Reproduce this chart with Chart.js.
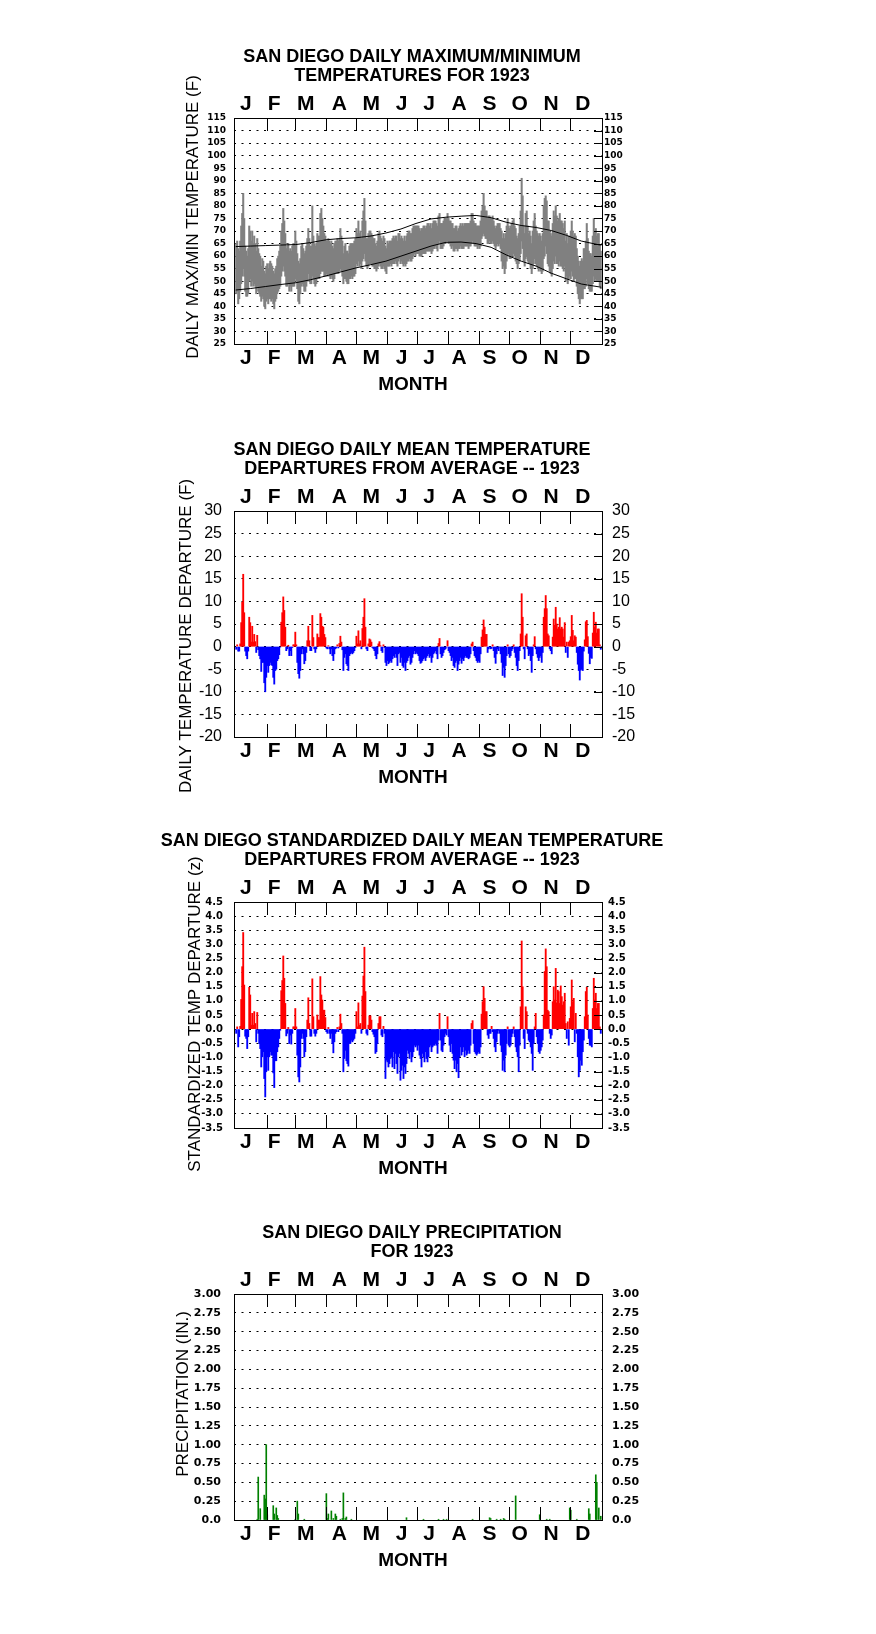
<!DOCTYPE html>
<html lang="en">
<head>
<meta charset="utf-8">
<title>San Diego 1923</title>
<script src="https://cdn.jsdelivr.net/npm/chart.js@4.4.1/dist/chart.umd.min.js"></script>
<style>
  html, body { margin: 0; padding: 0; background: #ffffff; }
  #page { position: relative; width: 876px; height: 1634px; overflow: hidden; }
  #page canvas { position: absolute; left: 0; }
</style>
</head>
<body>
<div id="page">
  <canvas id="chartMaxMin" width="876" height="410" style="top:0px"></canvas>
  <canvas id="chartDep" width="876" height="410" style="top:393px"></canvas>
  <canvas id="chartStd" width="876" height="410" style="top:784px"></canvas>
  <canvas id="chartPrcp" width="876" height="410" style="top:1176px"></canvas>
</div>
<script>
// --- data, 1923, day 0 = Jan 1 ---
const MONTHS = ['J', 'F', 'M', 'A', 'M', 'J', 'J', 'A', 'S', 'O', 'N', 'D'];
const monthStarts = [31, 59, 90, 120, 151, 181, 212, 243, 273, 304, 334];
const monthLabelDays = [10, 38.5, 70, 103.5, 135.3, 165.5, 193, 223, 253.5, 283.5, 314.8, 346.5];

// daily max / min temperature (F), one line per month
const tMax = [
  65,66,63,62,66,72,77,85,75,64,62,60,63,72,70,66,70,65,68,65,62,67,63,61,60,56,59,58,54,53,56,
  57,55,57,58,57,56,54,53,55,56,59,60,62,64,70,73,79,74,69,63,64,65,62,63,62,64,65,65,
  70,66,61,58,57,59,64,65,63,61,62,64,67,71,67,64,64,80,68,65,64,65,69,68,68,77,79,75,72,69,68,
  66,66,67,66,65,66,64,63,65,66,66,67,66,67,71,68,66,61,64,65,62,62,61,64,65,65,65,65,66,67,
  71,69,74,69,70,67,74,78,83,74,67,67,69,70,70,69,68,67,67,65,64,66,69,70,68,67,66,68,67,64,63,
  66,65,66,66,66,67,68,67,68,68,66,69,69,67,68,67,66,68,66,68,69,70,70,69,69,71,72,72,72,72,
  72,72,71,70,71,71,72,72,71,72,73,73,72,73,71,73,74,74,74,73,72,76,77,73,73,73,74,75,75,75,77,
  75,74,74,73,73,71,71,72,72,70,71,72,73,72,73,72,73,73,73,73,73,73,74,77,77,74,73,73,72,72,72,
  72,74,78,80,85,80,78,78,75,76,76,75,75,76,74,72,71,72,73,73,73,71,70,67,69,67,69,72,75,72,
  71,72,73,74,75,72,71,68,67,69,72,78,91,84,72,69,77,78,72,69,70,68,65,70,74,77,72,70,69,68,69,
  68,66,69,80,83,84,82,74,74,70,69,68,73,78,76,80,76,74,75,77,74,74,73,71,74,66,69,65,68,68,
  70,74,70,68,69,68,63,60,58,56,58,59,58,63,63,66,73,67,62,61,61,60,68,75,70,71,68,69,69,64,62
];
const tMin = [
  45,46,41,43,46,49,52,55,52,46,44,44,45,50,51,48,50,48,49,48,45,48,46,45,44,42,44,43,40,39,42,
  43,41,43,43,42,43,41,39,42,43,45,46,47,48,52,54,56,54,52,48,48,49,46,48,46,48,48,48,
  51,50,47,42,41,45,48,49,48,46,46,48,50,53,50,49,49,52,51,49,48,49,51,51,51,53,54,54,54,52,52,
  53,52,53,52,51,52,51,50,51,53,53,53,53,54,55,54,52,49,51,51,50,49,49,51,51,52,51,52,52,53,
  57,56,58,56,57,55,58,59,61,58,56,55,56,57,57,57,56,56,55,55,54,55,56,57,56,55,55,56,55,54,53,
  56,56,56,57,56,57,57,57,58,57,56,58,59,57,58,57,56,57,56,57,58,58,59,58,58,59,60,61,60,61,
  61,61,60,60,60,61,61,61,61,62,62,62,62,62,61,62,63,63,64,63,62,65,66,63,63,63,64,65,65,66,66,
  65,65,64,63,64,62,62,63,63,62,63,63,64,63,63,63,64,64,64,64,63,64,64,65,66,65,64,64,64,63,64,
  63,64,67,68,69,68,67,67,65,65,66,65,65,66,65,64,63,64,65,64,65,63,58,55,56,53,55,58,60,61,
  59,59,60,60,61,60,58,57,55,57,58,61,66,63,58,56,59,60,58,57,57,55,53,55,57,59,57,56,55,54,55,
  54,53,54,59,60,64,61,57,56,54,53,52,55,58,57,60,57,57,56,58,56,56,55,54,56,50,52,49,51,52,
  51,54,52,50,51,51,48,45,43,41,43,43,43,47,47,48,51,49,47,46,46,46,49,52,50,51,50,50,50,48,47
];

// long-term normal max / min curves
const normDays = [0, 15, 30, 45, 60, 75, 90, 105, 120, 135, 150, 165, 180, 195, 210, 225, 240, 255, 270, 285, 300, 315, 330, 345, 365];
const normMax = [63.8, 64, 64.2, 64.4, 64.6, 65.4, 66.5, 67, 67.3, 68, 69.2, 70.8, 73, 74.8, 75.5, 75.9, 76.2, 75.3, 73.5, 72.2, 71.4, 70.2, 68.3, 66, 64.3];
const normMin = [46.5, 47.1, 47.9, 48.7, 49.4, 50.6, 52.1, 53.7, 55.3, 56.6, 58, 60, 62, 64, 65.5, 65.6, 65, 63.5, 60.5, 58, 56, 53.2, 51, 48.9, 47.6];

// daily mean temperature departure (F)
const depF = [
  -0.6,0.4,-1,-1,0.6,5.3,9.8,16,7.5,-1,-2,-2.7,-1,6.5,5.3,1,4.5,1,2.7,1.1,-1.3,2.5,-0.7,-2,-2.7,-5.5,-3.5,-3.5,-8,-10,-6.8,
  -4.2,-5.7,-4.2,-3.5,-4,-4.2,-6.8,-8.3,-5.3,-5,-3.1,-2.7,-1.8,-0.1,5.4,7.5,11,8,4.3,-0.9,-0.5,0.3,-2,-0.9,-2,-0.2,0.4,0.4,
  3.2,0.4,-3.5,-6,-7,-5.3,-1.6,-0.5,-1.6,-3.8,-3.1,-1.3,1.3,4.5,1.3,-0.9,-0.9,6.9,2,-0.5,-1.3,-0.5,2.8,2,2,7.3,6.5,4.5,4.3,2.7,2,
  -0.3,-0.5,0.2,-0.5,-1.6,-0.5,-2,-3.1,-1.6,-0.5,-0.3,0.4,-0.3,0.7,2.3,1,-0.7,-5.3,-2.4,-1.6,-3.8,-4.2,-5.3,-2,-1.6,-1.3,-1.6,-1.3,-0.9,-0.2,
  2.3,0.6,3.5,0.6,1.3,-0.5,4,6.5,10.6,4.3,-0.5,-0.9,0.6,1.7,1.5,1,-0.2,-0.5,-0.9,-2,-2.7,-1.6,0.6,1.1,0.2,-0.9,-1.3,0.4,-0.2,-3.5,-4.2,
  -3.1,-3.8,-3.5,-3.1,-3.5,-2.7,-2,-2.4,-1.6,-2.4,-4.2,-1.6,-1.3,-3.5,-2.4,-4.2,-4.6,-3.5,-5.3,-3.5,-3.1,-2.4,-2,-3.9,-3.5,-2.4,-1.6,-0.9,-1.6,-1.3,
  -1.6,-2,-3.1,-3.7,-3.5,-3.1,-2.7,-2.4,-3.1,-2.4,-2,-1.6,-2.4,-2,-3.5,-2.4,-1.6,-1.3,-0.9,-1.6,-2.7,0.7,1.8,-1.6,-2.4,-2,-1.3,-0.7,-0.5,-0.1,1.3,
  -0.9,-1.3,-2,-3.1,-2.4,-4.2,-4.6,-3.5,-3.1,-5.3,-3.9,-3.1,-2.4,-3.7,-2.7,-3.1,-2.4,-2,-2.4,-2.4,-2.7,-2.4,-1.6,0.6,1,-0.9,-2,-2.4,-3.1,-3.5,-3.1,
  -3.5,-1.6,2.1,3.7,5.9,4.3,2.7,2.7,-1.3,-0.5,-0.1,-0.5,-0.4,0.4,-0.9,-2.4,-3.7,-1.6,-0.5,-0.9,-0.1,-1.6,-3.5,-6.4,-4.6,-6.8,-4.2,-2,0.4,-1.6,
  -2.4,-2,-0.9,-0.5,0.4,-1.3,-2.4,-4.2,-5.3,-3.1,-0.9,2.8,11.7,6.5,-0.5,-2.7,2.4,2.8,-0.5,-2,-1.6,-3.1,-5.7,-2,0.4,2.2,-0.5,-1.6,-2.4,-3.1,-2.4,
  -2,-3.5,-1.3,6.5,8.4,11.3,8.4,2.8,2.4,-0.5,-0.9,-1.6,2.1,6.1,4.7,8.7,5,3.9,4.3,6.4,3.9,4.3,3.9,2.1,5.3,-1.3,1,-2.4,1,1.3,
  2.2,6.9,3.6,1.3,2.4,2.1,-1.3,-3.9,-5.3,-7.4,-5.2,-5,-5.3,-1,1.5,5.5,5.8,2.2,-1.5,-3.8,-2.4,-2.6,3,7.6,4.3,5.4,3,3.9,3.9,0.4,-0.6
];

// standardized daily mean departure (z)
const depZ = [
  -0.15,0.08,-0.63,-0.27,0.1,1.05,2.21,3.42,1.56,-0.25,-0.33,-0.69,-0.27,1.48,1.21,0.14,0.56,0.14,0.62,0.2,-0.45,0.59,-0.15,-0.51,-0.69,-1.34,-0.98,-0.8,-1.75,-2.4,-1.51,
  -0.98,-1.46,-0.98,-0.8,-0.92,-0.92,-1.55,-2.07,-1.12,-1.12,-0.8,-0.63,-0.33,-0.04,1.36,1.72,2.59,1.8,0.91,-0.24,-0.15,0.06,-0.51,-0.21,-0.53,-0.15,0.08,0.08,
  0.73,0.08,-0.92,-1.69,-1.87,-1.34,-0.33,-0.15,-0.33,-0.98,-0.8,-0.27,0.32,1.11,0.2,-0.25,-0.25,1.78,0.44,-0.15,-0.25,-0.15,0.5,0.32,0.32,1.86,1.21,1.03,0.67,0.67,0.41,
  -0.09,-0.15,0.06,-0.15,-0.33,-0.15,-0.51,-0.84,-0.45,-0.15,-0.09,0.06,-0.09,0.08,0.53,0.2,-0.15,-1.51,-1.04,-0.75,-1.12,-1.22,-1.31,-0.51,-0.51,-0.39,-0.45,-0.39,-0.33,-0.15,
  0.62,0.08,0.93,0.14,0.2,-0.15,1.17,1.88,2.9,1.33,-0.15,-0.21,0.14,0.47,0.47,0.32,-0.09,-0.18,-0.27,-0.86,-0.8,-0.51,0.2,0.44,0.44,-0.21,-0.27,0.1,-0.15,-1.75,-1.1,
  -1.16,-1.34,-1.22,-1.04,-0.98,-1.34,-0.8,-1.4,-0.86,-1.22,-1.57,-0.98,-0.86,-1.81,-1.46,-1.28,-1.75,-1.34,-1.57,-1.22,-0.75,-0.86,-1.04,-0.8,-1.16,-0.98,-0.8,-0.57,-0.63,-0.57,
  -0.75,-0.57,-0.92,-1.04,-1.34,-0.86,-0.98,-1.16,-0.8,-1.04,-1.16,-0.98,-0.63,-0.57,-0.8,-0.63,-0.57,-0.57,-0.51,-0.57,-0.86,-0.39,0.56,-0.39,-0.75,-0.8,-0.57,-0.27,-0.15,-0.21,0.44,
  -0.27,-0.57,-0.8,-0.51,-0.86,-1.1,-1.4,-1.1,-1.51,-1.22,-1.72,-0.98,-0.63,-0.92,-0.8,-0.63,-0.98,-0.75,-0.92,-0.86,-0.75,-0.86,-0.57,0.2,0.3,-0.51,-0.8,-0.86,-0.92,-0.86,-0.8,
  -0.86,-0.63,0.53,0.97,1.5,1.09,0.62,0.62,-0.21,-0.33,-0.15,-0.15,0.1,-0.09,-0.33,-0.63,-0.8,-0.45,-0.15,-0.04,-0.15,-0.57,-0.8,-1.46,-1.1,-1.51,-0.92,-0.51,0.08,-0.57,
  -0.63,-0.57,-0.27,-0.15,0.08,-0.27,-0.63,-0.8,-0.98,-1.51,-0.57,0.79,3.12,1.5,-0.33,-0.69,0.79,0.62,-0.15,-0.39,-0.45,-0.63,-0.86,-1.46,-0.51,0.08,0.56,-0.27,-0.51,-0.8,-0.86,
  -0.75,-0.63,-0.39,0.5,2.04,2.84,2.21,0.67,0.62,-0.15,-0.33,-0.21,0.97,1.5,1.03,2.15,0.93,1.38,1.33,0.91,1.53,1.15,0.85,0.97,1.27,0.2,-0.33,0.26,-0.57,0.38,
  0.79,1.74,0.97,1.09,-0.45,0.56,-0.15,-0.98,-1.69,-1.46,-1.1,-1.28,-0.8,-0.39,0.44,1.33,1.48,0.5,-0.33,-0.57,-0.57,-0.63,0.73,1.8,1.03,1.27,0.73,0.91,0.91,0.08,-0.15
];

// days with measurable precipitation and amounts (inches)
const precipDays = [21,22,24,28,29,30,31,37,38,40,41,42,59,61,62,68,90,91,92,95,97,99,100,104,106,107,109,110,115,
  170,187,202,207,210,236,253,254,260,264,267,268,279,303,310,313,333,334,340,352,353,359,360,362,364];
const precipIn = [0.01,0.57,0.15,0.33,0.28,1.00,0.07,0.19,0.08,0.16,0.06,0.02,0.01,0.25,0.08,0.01,0.35,0.02,0.08,0.12,0.02,0.08,0.05,0.01,0.02,0.36,0.02,0.04,0.01,
  0.03,0.01,0.01,0.01,0.01,0.01,0.03,0.02,0.01,0.01,0.02,0.01,0.32,0.07,0.01,0.01,0.16,0.13,0.01,0.15,0.08,0.60,0.50,0.16,0.05];

// --- styling ---
const ARIAL = "'Liberation Sans', Arial, Helvetica, sans-serif";
const DEJAVU = "'DejaVu Sans', Verdana, sans-serif";
const X_MIN = -1.7, X_MAX = 365.7;
const PLOT_BOTTOM = 344;
const RED = '#ff0000', BLUE = '#0000ff', GREEN = '#008000', GRAY = '#808080';

Chart.defaults.color = '#000';

// month ticks (inside the frame), right-hand ticks, side titles
const frameMarks = {
  id: 'frameMarks',
  afterDatasetsDraw(chart, args, opts) {
    const { ctx, chartArea: a, scales: { x, y } } = chart;
    ctx.save();
    ctx.strokeStyle = '#000';
    ctx.lineWidth = 1;
    ctx.beginPath();
    monthStarts.forEach(d => {
      const px = Math.round(x.getPixelForValue(d)) + 0.5;
      ctx.moveTo(px, a.top); ctx.lineTo(px, a.top + 13);
      ctx.moveTo(px, a.bottom); ctx.lineTo(px, a.bottom - 13);
    });
    if (opts.rightTicks) {
      y.ticks.forEach(t => {
        const py = Math.round(y.getPixelForValue(t.value)) + 0.5;
        ctx.moveTo(a.right - 8, py); ctx.lineTo(a.right, py);
      });
    }
    ctx.stroke();

    ctx.fillStyle = '#000';
    ctx.textAlign = 'center';
    ctx.textBaseline = 'middle';
    ctx.font = 'bold 19px ' + ARIAL;
    ctx.fillText('MONTH', 413, 385);
    ctx.font = '17px ' + ARIAL;
    ctx.translate(opts.yTitleX, opts.yTitleY);
    ctx.rotate(-Math.PI / 2);
    ctx.fillText(opts.yTitle, 0, 0);
    ctx.restore();
  }
};

function xAxis(pos) {
  return {
    type: 'linear', position: pos, min: X_MIN, max: X_MAX, offset: false,
    grid: { display: false, drawTicks: false },
    border: { display: true, color: '#000', width: 1 },
    afterBuildTicks: s => { s.ticks = monthLabelDays.map(v => ({ value: v })); },
    ticks: {
      autoSkip: false, maxRotation: 0, minRotation: 0, padding: pos === 'top' ? 1 : 1.5,
      font: { family: ARIAL, size: 21, weight: 'bold', lineHeight: 1.2 },
      callback: (v, i) => MONTHS[i]
    },
    afterFit: s => { s.height = pos === 'top' ? 32.64 : s.chart.height - PLOT_BOTTOM; }
  };
}

function yAxis(pos, p) {
  return {
    type: 'linear', position: pos, min: p.yMin, max: p.yMax,
    grid: { display: pos === 'left', drawTicks: false, color: '#000', lineWidth: 1 },
    border: { display: true, color: '#000', width: 1, dash: [2, 5.5], dashOffset: 1 },
    afterBuildTicks: s => {
      const t = [];
      for (let v = p.yMin; v <= p.yMax + 1e-9; v += p.yStep) t.push({ value: Math.round(v * 100) / 100 });
      s.ticks = t;
    },
    ticks: {
      autoSkip: false, padding: pos === 'left' ? p.padL : p.padR,
      font: p.tickFont, callback: p.fmt
    },
    afterFit: s => { s.width = pos === 'left' ? 234 : 222; }
  };
}

function makeChart(id, p, datasets) {
  return new Chart(document.getElementById(id), {
    type: 'bar',
    data: { datasets },
    options: {
      responsive: false, animation: false, devicePixelRatio: 1, events: [],
      layout: { padding: { left: 0, right: 52, top: 0, bottom: 0 } },
      plugins: {
        legend: { display: false },
        tooltip: { enabled: false },
        title: {
          display: true, text: p.title, color: '#000',
          font: { family: ARIAL, size: 18, weight: 'bold', lineHeight: 1.06 },
          padding: { top: 47.2, bottom: 0 }
        },
        frameMarks: { yTitle: p.yTitle, yTitleX: p.yTitleX, yTitleY: p.yTitleY, rightTicks: p.rightTicks }
      },
      scales: { x: xAxis('bottom'), x2: xAxis('top'), y: yAxis('left', p), y2: yAxis('right', p) }
    },
    plugins: [frameMarks]
  });
}

const signColor = c => (c.raw && c.raw.y < 0) ? BLUE : RED;

// --- 1: daily max / min ---
makeChart('chartMaxMin', {
  title: ['SAN DIEGO DAILY MAXIMUM/MINIMUM', 'TEMPERATURES FOR 1923'],
  yTitle: 'DAILY MAX/MIN TEMPERATURE (F)', yTitleX: 193, yTitleY: 217, rightTicks: true,
  yMin: 25, yMax: 115, yStep: 5, padL: 8, padR: 2,
  tickFont: { family: DEJAVU, size: 9, weight: 'bold' },
  fmt: v => String(v)
}, [
  { type: 'line', data: normDays.map((d, i) => ({ x: d, y: normMax[i] })), borderColor: '#000', borderWidth: 1, pointRadius: 0, order: 0 },
  { type: 'line', data: normDays.map((d, i) => ({ x: d, y: normMin[i] })), borderColor: '#000', borderWidth: 1, pointRadius: 0, order: 0 },
  { type: 'bar', data: tMax.map((v, i) => ({ x: i + 0.5, y: [tMin[i], v] })), backgroundColor: GRAY, barThickness: 1.4, order: 1 }
]);

// --- 2: departures (F) ---
makeChart('chartDep', {
  title: ['SAN DIEGO DAILY MEAN TEMPERATURE', 'DEPARTURES FROM AVERAGE -- 1923'],
  yTitle: 'DAILY TEMPERATURE DEPARTURE (F)', yTitleX: 186, yTitleY: 243, rightTicks: true,
  yMin: -20, yMax: 30, yStep: 5, padL: 12, padR: 10,
  tickFont: { family: ARIAL, size: 16 },
  fmt: v => String(v)
}, [
  { data: depF.map((v, i) => ({ x: i + 0.5, y: v })), backgroundColor: signColor, barThickness: 1.2 }
]);

// --- 3: standardized departures ---
makeChart('chartStd', {
  title: ['SAN DIEGO STANDARDIZED DAILY MEAN TEMPERATURE', 'DEPARTURES FROM AVERAGE -- 1923'],
  yTitle: 'STANDARDIZED TEMP DEPARTURE (z)', yTitleX: 195, yTitleY: 230, rightTicks: true,
  yMin: -3.5, yMax: 4.5, yStep: 0.5, padL: 11, padR: 6,
  tickFont: { family: DEJAVU, size: 10, weight: 'bold' },
  fmt: v => v.toFixed(1)
}, [
  { data: depZ.map((v, i) => ({ x: i + 0.5, y: v })), backgroundColor: signColor, barThickness: 1.2 }
]);

// --- 4: precipitation ---
makeChart('chartPrcp', {
  title: ['SAN DIEGO DAILY PRECIPITATION', 'FOR 1923'],
  yTitle: 'PRECIPITATION (IN.)', yTitleX: 183, yTitleY: 218, rightTicks: false,
  yMin: 0, yMax: 3, yStep: 0.25, padL: 13, padR: 10,
  tickFont: { family: DEJAVU, size: 11, weight: 'bold' },
  fmt: v => v === 0 ? '0.0' : v.toFixed(2)
}, [
  { data: precipDays.map((d, i) => ({ x: d + 0.5, y: precipIn[i] })), backgroundColor: GREEN, barThickness: 1 }
]);
</script>
</body>
</html>
